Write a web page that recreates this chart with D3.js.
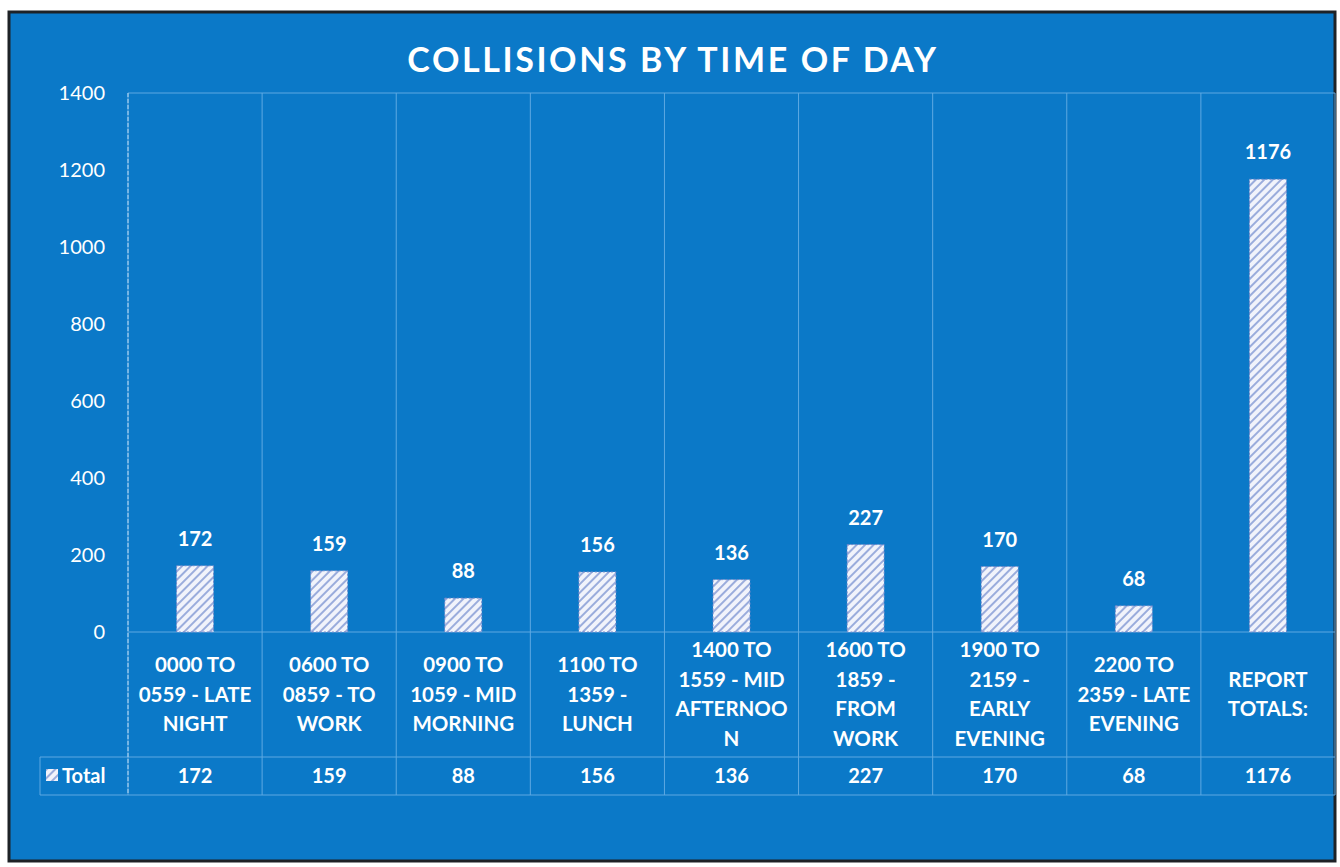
<!DOCTYPE html>
<html>
<head>
<meta charset="utf-8">
<script src="https://cdn.jsdelivr.net/npm/d3@7"></script>
<style>
  html, body { margin: 0; padding: 0; background: #ffffff; }
  svg { display: block; font-family: Lato, "Open Sans", sans-serif; }
  .cell-line { stroke: #5fa9e2; stroke-width: 1; }
</style>
</head>
<body>
<svg id="chart" width="1340" height="867"></svg>
<script>
// Chart data
const categories = [
  '0000 TO 0559 - LATE NIGHT',
  '0600 TO 0859 - TO WORK',
  '0900 TO 1059 - MID MORNING',
  '1100 TO 1359 - LUNCH',
  '1400 TO 1559 - MID AFTERNOON',
  '1600 TO 1859 - FROM WORK',
  '1900 TO 2159 - EARLY EVENING',
  '2200 TO 2359 - LATE EVENING',
  'REPORT TOTALS:'
];
// Wrapped the way the table cells show them
const categoryLines = [
  ['0000 TO', '0559 - LATE', 'NIGHT'],
  ['0600 TO', '0859 - TO', 'WORK'],
  ['0900 TO', '1059 - MID', 'MORNING'],
  ['1100 TO', '1359 -', 'LUNCH'],
  ['1400 TO', '1559 - MID', 'AFTERNOO', 'N'],
  ['1600 TO', '1859 -', 'FROM', 'WORK'],
  ['1900 TO', '2159 -', 'EARLY', 'EVENING'],
  ['2200 TO', '2359 - LATE', 'EVENING'],
  ['REPORT', 'TOTALS:']
];
const totals     = [172, 159, 88, 156, 136, 227, 170, 68, 1176];
const yTicks     = [0, 200, 400, 600, 800, 1000, 1200, 1400];
const seriesName = 'Total';
const chartTitle = 'COLLISIONS BY TIME OF DAY';

// Layout
const plot = {left: 128, right: 1335, top: 93, bottom: 632};
const tableRow1 = 757;   // bottom of category label row
const tableRow2 = 795;   // bottom of the Total row
const legendLeft = 40;
const fontSz = 20;

const svg = d3.select('#chart');

// Hatch pattern for bars
const defs = svg.append('defs');
const pat = defs.append('pattern')
    .attr('id', 'hatch')
    .attr('patternUnits', 'userSpaceOnUse')
    .attr('width', 6).attr('height', 6)
    .attr('patternTransform', 'rotate(45)');
pat.append('rect').attr('width', 6).attr('height', 6).attr('fill', '#f1f3fb');
pat.append('rect').attr('width', 2).attr('height', 6).attr('fill', '#9aacdc');

// Background and frame
svg.append('rect')
    .attr('x', 9).attr('y', 12).attr('width', 1326).attr('height', 849)
    .attr('fill', '#0b79c8')
    .attr('stroke', '#1e2226').attr('stroke-width', 3);

// Title
svg.append('text')
    .attr('x', 673).attr('y', 72)
    .attr('text-anchor', 'middle')
    .attr('fill', '#ffffff')
    .attr('font-size', 34).attr('font-weight', 700)
    .attr('letter-spacing', 2.6)
    .text(chartTitle);

// Scales
const x = d3.scaleBand().domain(categories).range([plot.left, plot.right]);
const y = d3.scaleLinear().domain([0, 1400]).range([plot.bottom, plot.top]);
const barW = 37;

// Grid and table lines
const grid = svg.append('g');
// vertical boundaries between categories, down through the table
const bounds = categories.map(c => x(c)).concat([plot.right]);
grid.selectAll('line.v').data(bounds).join('line')
    .attr('class', 'cell-line')
    .attr('x1', d => d).attr('x2', d => d)
    .attr('y1', plot.top).attr('y2', tableRow2);
// top of plot, baseline, table rows
grid.append('line').attr('class', 'cell-line')
    .attr('x1', plot.left).attr('x2', plot.right)
    .attr('y1', y(1400)).attr('y2', y(1400));
grid.append('line').attr('class', 'cell-line')
    .attr('x1', plot.left).attr('x2', plot.right)
    .attr('y1', y(0)).attr('y2', y(0));
[tableRow1, tableRow2].forEach(yy => {
  grid.append('line').attr('class', 'cell-line')
      .attr('x1', legendLeft).attr('x2', plot.right)
      .attr('y1', yy).attr('y2', yy);
});
grid.append('line').attr('class', 'cell-line')
    .attr('x1', legendLeft).attr('x2', legendLeft)
    .attr('y1', tableRow1).attr('y2', tableRow2);
// y axis line, lighter and dashed
grid.append('line')
    .attr('x1', plot.left).attr('x2', plot.left)
    .attr('y1', plot.top).attr('y2', tableRow2)
    .attr('stroke', '#b9dbf4').attr('stroke-dasharray', '4,2');

// Y axis
const yAxis = d3.axisLeft(y).tickValues(yTicks).tickSize(0).tickPadding(23)
    .tickFormat(d3.format('d'));
const yG = svg.append('g')
    .attr('transform', `translate(${plot.left},0)`)
    .call(yAxis);
yG.select('.domain').remove();
yG.selectAll('text')
    .attr('fill', '#ffffff')
    .attr('font-size', 20)
    .attr('font-family', 'Lato, "Open Sans", sans-serif');

// Bars
svg.append('g').selectAll('rect')
    .data(totals).join('rect')
    .attr('x', (d, i) => x(categories[i]) + x.bandwidth() / 2 - barW / 2)
    .attr('y', d => y(d))
    .attr('width', barW)
    .attr('height', d => y(0) - y(d))
    .attr('fill', 'url(#hatch)')
    .attr('stroke', '#6f86c9')
    .attr('stroke-width', 1)
    .attr('stroke-dasharray', '2,2');

// Data labels above bars
svg.append('g').selectAll('text')
    .data(totals).join('text')
    .attr('x', (d, i) => x(categories[i]) + x.bandwidth() / 2)
    .attr('y', d => y(d) - 20)
    .attr('text-anchor', 'middle')
    .attr('fill', '#ffffff')
    .attr('font-size', fontSz).attr('font-weight', 700)
    .text(d => d);

// Category labels in the table
const lineH = 29.5;
const labelMid = (plot.bottom + tableRow1) / 2;
categoryLines.forEach((lines, i) => {
  const cx = x(categories[i]) + x.bandwidth() / 2;
  const t = svg.append('text')
      .attr('text-anchor', 'middle')
      .attr('fill', '#ffffff')
      .attr('font-size', 20.5).attr('font-weight', 700);
  const y0 = labelMid - (lines.length - 1) * lineH / 2 + 7;
  lines.forEach((ln, j) => {
    t.append('tspan').attr('x', cx).attr('y', y0 + j * lineH).text(ln);
  });
});

// Total row values
svg.append('g').selectAll('text')
    .data(totals).join('text')
    .attr('x', (d, i) => x(categories[i]) + x.bandwidth() / 2)
    .attr('y', (tableRow1 + tableRow2) / 2 + 7)
    .attr('text-anchor', 'middle')
    .attr('fill', '#ffffff')
    .attr('font-size', fontSz).attr('font-weight', 700)
    .text(d => d);

// Legend key in the Total row
svg.append('rect')
    .attr('x', 46).attr('y', 769).attr('width', 12).attr('height', 12)
    .attr('fill', 'url(#hatch)');
svg.append('text')
    .attr('x', 62).attr('y', (tableRow1 + tableRow2) / 2 + 7)
    .attr('fill', '#ffffff')
    .attr('font-size', fontSz).attr('font-weight', 700)
    .text(seriesName);
</script>
</body>
</html>
